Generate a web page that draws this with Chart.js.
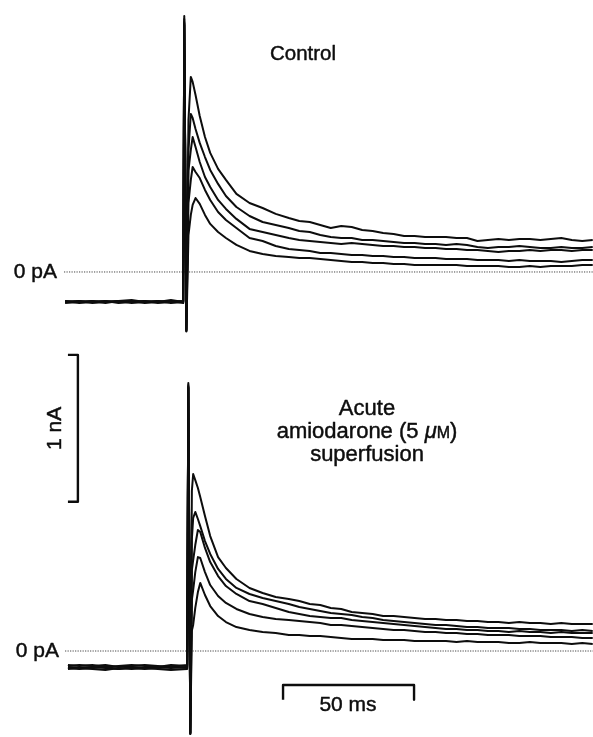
<!DOCTYPE html>
<html>
<head>
<meta charset="utf-8">
<script src="https://cdn.jsdelivr.net/npm/chart.js@4/dist/chart.umd.min.js"></script>
<style>
  html, body { margin: 0; padding: 0; background: #ffffff; }
  #wrap { position: relative; width: 593px; height: 737px; }
  canvas { display: block; }
</style>
</head>
<body>
<div id="wrap"><canvas id="c" width="593" height="737"></canvas></div>
<script>
// ---------- DATA (time in ms, current in pA) ----------
const timeTopMs = [-45.4,-40,-35,-30,-25,-20,-15,-10,-5,-0.3,0.1,0.9,1.7,
  2.6,3.3,4.4,6,8,10,13,16,20,25,30,35,40,
  44,48,52,56,60,64,68,72,76,80,84,88,92,96,100,104,108,112,116,120,124,128,132,136,140,144,148,152,156];

const controlSweep1 = [-197,-204,-197,-211,-197,-190,-204,-197,-204,-197, 1741,-401,1034,
  1327,1293,1204,1061,918,810,701,626,531,469,435,395,367,
  347,340,320,299,313,306,286,279,265,259,245,245,238,238,238,231,231,211,218,224,218,224,224,218,224,231,218,211,218];
const controlSweep2 = [-204,-197,-204,-197,-211,-204,-197,-204,-190,-204, 1720,-395,830,
  1075,1048,973,878,782,694,599,517,442,381,340,320,299,
  279,272,252,238,231,231,218,218,211,204,197,197,190,190,184,190,184,170,163,170,170,177,170,163,163,170,163,163,170];
const controlSweep3 = [-211,-204,-197,-204,-197,-211,-204,-197,-211,-204, 1700,-405,690,
  830,918,850,748,646,578,490,429,361,293,272,252,231,
  218,211,204,197,190,197,190,184,177,177,170,170,163,163,156,156,150,150,143,136,143,143,150,143,150,150,143,150,150];
const controlSweep4 = [-197,-211,-204,-197,-204,-197,-211,-204,-197,-211, 1690,-390,470,
  626,714,680,639,558,490,408,354,299,231,211,177,156,
  150,143,129,129,122,116,116,109,109,102,102,95,95,95,88,88,88,82,82,82,75,82,75,75,75,68,75,82,82];
const controlSweep5 = [-204,-197,-211,-204,-197,-204,-197,-211,-204,-197, 1680,-400,250,
  388,456,503,463,388,327,272,231,184,143,122,109,102,
  95,95,88,82,75,68,68,61,61,54,54,48,48,48,48,48,41,41,41,41,34,34,41,34,41,41,41,48,48];

const timeBottomMs = [-44.3,-40,-35,-30,-25,-20,-15,-10,-5,1.2,1.65,2.4,3.0,
  3.5,4.3,5.3,6.2,8,10,13,16,20,25,30,35,40,
  44,48,52,56,60,64,68,72,76,80,84,88,92,96,100,104,108,112,116,120,124,128,132,136,140,144,148,152,156];

const amioSweep1 = [-95,-102,-95,-109,-102,-95,-102,-109,-95,-102, 1823,-565,1090,
  1204,1163,1109,1048,918,782,639,565,490,429,395,367,354,
  340,320,313,293,286,265,259,252,238,238,231,224,218,218,211,211,204,204,197,197,190,197,190,190,184,190,184,184,184];
const amioSweep2 = [-102,-95,-102,-95,-109,-102,-95,-102,-109,-95, 1800,-560,760,
  905,946,898,850,748,660,558,490,429,388,361,340,320,
  299,286,272,259,252,245,231,224,211,204,197,190,184,177,177,170,163,163,156,156,156,150,150,143,143,143,136,143,136];
const amioSweep3 = [-116,-122,-116,-109,-122,-116,-122,-116,-109,-116, 1790,-555,550,
  619,721,823,810,701,605,510,442,388,340,320,293,265,
  252,238,231,224,224,211,204,197,190,184,177,170,163,156,150,150,143,143,136,136,129,136,129,129,122,129,122,122,122];
const amioSweep4 = [-122,-116,-122,-129,-116,-122,-116,-122,-129,-122, 1810,-565,350,
  415,537,639,633,537,449,374,327,286,252,231,218,211,
  204,197,190,177,177,170,163,156,150,143,143,136,129,129,122,122,116,116,109,109,109,102,102,102,95,95,95,88,88];
const amioSweep5 = [-109,-116,-109,-116,-122,-109,-116,-109,-116,-109, 1795,-560,140,
  177,293,401,463,381,306,238,197,163,143,129,122,109,
  109,102,102,95,88,82,82,82,75,75,75,68,68,68,68,61,68,61,61,61,54,54,61,54,54,54,48,54,48];

// zero-current reference lines (ms range)
const zeroLineTopMs = [-45.8, 156.2];
const zeroLineBottomMs = [-45.4, 156.2];

// calibration bars
const currentBarPA = [1015, 2015];      // 1 nA
const currentBarTimeMs = -40.5;
const timeBarMs = [37.8, 87.8];          // 50 ms
const timeBarLevelPA = -231;

// text
const titleTop = "Control";
const titleBottom = ["Acute", "amiodarone (5 ", "\u03bc", "M", ")", "superfusion"];
const zeroLabel = "0 pA";
const currentBarLabel = "1 nA";
const timeBarLabel = "50 ms";

// ---------- CHART ----------
const ink = '#0d0d0d';
function series(times, vals) { return times.map((t, i) => ({ x: t, y: vals[i] })); }
function trace(times, vals, axis) {
  return { data: series(times, vals), yAxisID: axis, borderColor: ink, borderWidth: 2.0,
           pointRadius: 0, tension: 0, fill: false };
}
const datasets = [];
[controlSweep1, controlSweep2, controlSweep3, controlSweep4, controlSweep5]
  .forEach(v => datasets.push(trace(timeTopMs, v, 'yTop')));
[amioSweep1, amioSweep2, amioSweep3, amioSweep4, amioSweep5]
  .forEach(v => datasets.push(trace(timeBottomMs, v, 'yBot')));

datasets.push({ data: zeroLineTopMs.map(t => ({ x: t, y: 0 })), yAxisID: 'yTop',
  borderColor: '#444', borderWidth: 1, borderDash: [1.2, 1.3], pointRadius: 0 });
datasets.push({ data: zeroLineBottomMs.map(t => ({ x: t, y: 0 })), yAxisID: 'yBot',
  borderColor: '#444', borderWidth: 1, borderDash: [1.2, 1.3], pointRadius: 0 });

// 1 nA bar with end ticks
datasets.push({ data: [
    { x: currentBarTimeMs - 3.8, y: currentBarPA[1] }, { x: currentBarTimeMs, y: currentBarPA[1] },
    { x: currentBarTimeMs, y: currentBarPA[0] }, { x: currentBarTimeMs - 3.8, y: currentBarPA[0] }],
  yAxisID: 'yBot', borderColor: ink, borderWidth: 2.4, pointRadius: 0, tension: 0 });
// 50 ms bar with end ticks
datasets.push({ data: [
    { x: timeBarMs[0], y: timeBarLevelPA - 100 }, { x: timeBarMs[0], y: timeBarLevelPA },
    { x: timeBarMs[1], y: timeBarLevelPA }, { x: timeBarMs[1], y: timeBarLevelPA - 100 }],
  yAxisID: 'yBot', borderColor: ink, borderWidth: 2.4, pointRadius: 0, tension: 0 });

const FONT = '"Liberation Sans", Arial, Helvetica, sans-serif';
function txt(ctx, s, x, y) {
  ctx.strokeText(s, x, y);
  ctx.fillText(s, x, y);
}
const labelsPlugin = {
  id: 'labels',
  afterDraw(chart) {
    const ctx = chart.ctx;
    const yT = chart.scales.yTop, yB = chart.scales.yBot;
    ctx.save();
    ctx.fillStyle = ink;
    ctx.strokeStyle = ink;
    ctx.lineWidth = 0.45;
    ctx.lineJoin = 'round';
    ctx.font = '20.5px ' + FONT;
    ctx.textBaseline = 'alphabetic';
    ctx.textAlign = 'center';
    txt(ctx, titleTop, 303, 60);
    ctx.font = '22px ' + FONT;
    txt(ctx, titleBottom[0], 367, 415);
    // amiodarone (5 µM) with italic mu and small-cap M
    const parts = [
      { t: titleBottom[1], f: '22px ' + FONT },
      { t: titleBottom[2], f: 'italic 22px ' + FONT },
      { t: titleBottom[3], f: '16px ' + FONT },
      { t: titleBottom[4], f: '22px ' + FONT }];
    let total = 0;
    parts.forEach(p => { ctx.font = p.f; p.w = ctx.measureText(p.t).width; total += p.w; });
    let px = 367 - total / 2;
    ctx.textAlign = 'left';
    parts.forEach(p => { ctx.font = p.f; txt(ctx, p.t, px, 438); px += p.w; });
    ctx.textAlign = 'center';
    ctx.font = '22px ' + FONT;
    txt(ctx, titleBottom[5], 367, 461);
    // zero labels
    ctx.font = '21px ' + FONT;
    ctx.textAlign = 'right';
    ctx.textBaseline = 'middle';
    txt(ctx, zeroLabel, 57, yT.getPixelForValue(0));
    txt(ctx, zeroLabel, 59, yB.getPixelForValue(0));
    // time bar label
    ctx.textAlign = 'center';
    ctx.textBaseline = 'alphabetic';
    txt(ctx, timeBarLabel, 348, 711);
    // current bar label (rotated)
    ctx.translate(55, (yB.getPixelForValue(currentBarPA[0]) + yB.getPixelForValue(currentBarPA[1])) / 2);
    ctx.rotate(-Math.PI / 2);
    ctx.textBaseline = 'middle';
    txt(ctx, currentBarLabel, 0, 0);
    ctx.restore();
  }
};

new Chart(document.getElementById('c'), {
  type: 'line',
  data: { datasets },
  options: {
    responsive: false,
    animation: false,
    layout: { padding: 0 },
    plugins: { legend: { display: false }, tooltip: { enabled: false } },
    elements: { line: { borderCapStyle: 'butt', borderJoinStyle: 'round' } },
    scales: {
      x: { type: 'linear', min: -70.23, max: 156.1, display: false },
      yTop: { type: 'linear', min: -3163, max: 1850, display: false },
      yBot: { type: 'linear', min: -585, max: 4429, display: false }
    }
  },
  plugins: [labelsPlugin]
});
</script>
</body>
</html>
